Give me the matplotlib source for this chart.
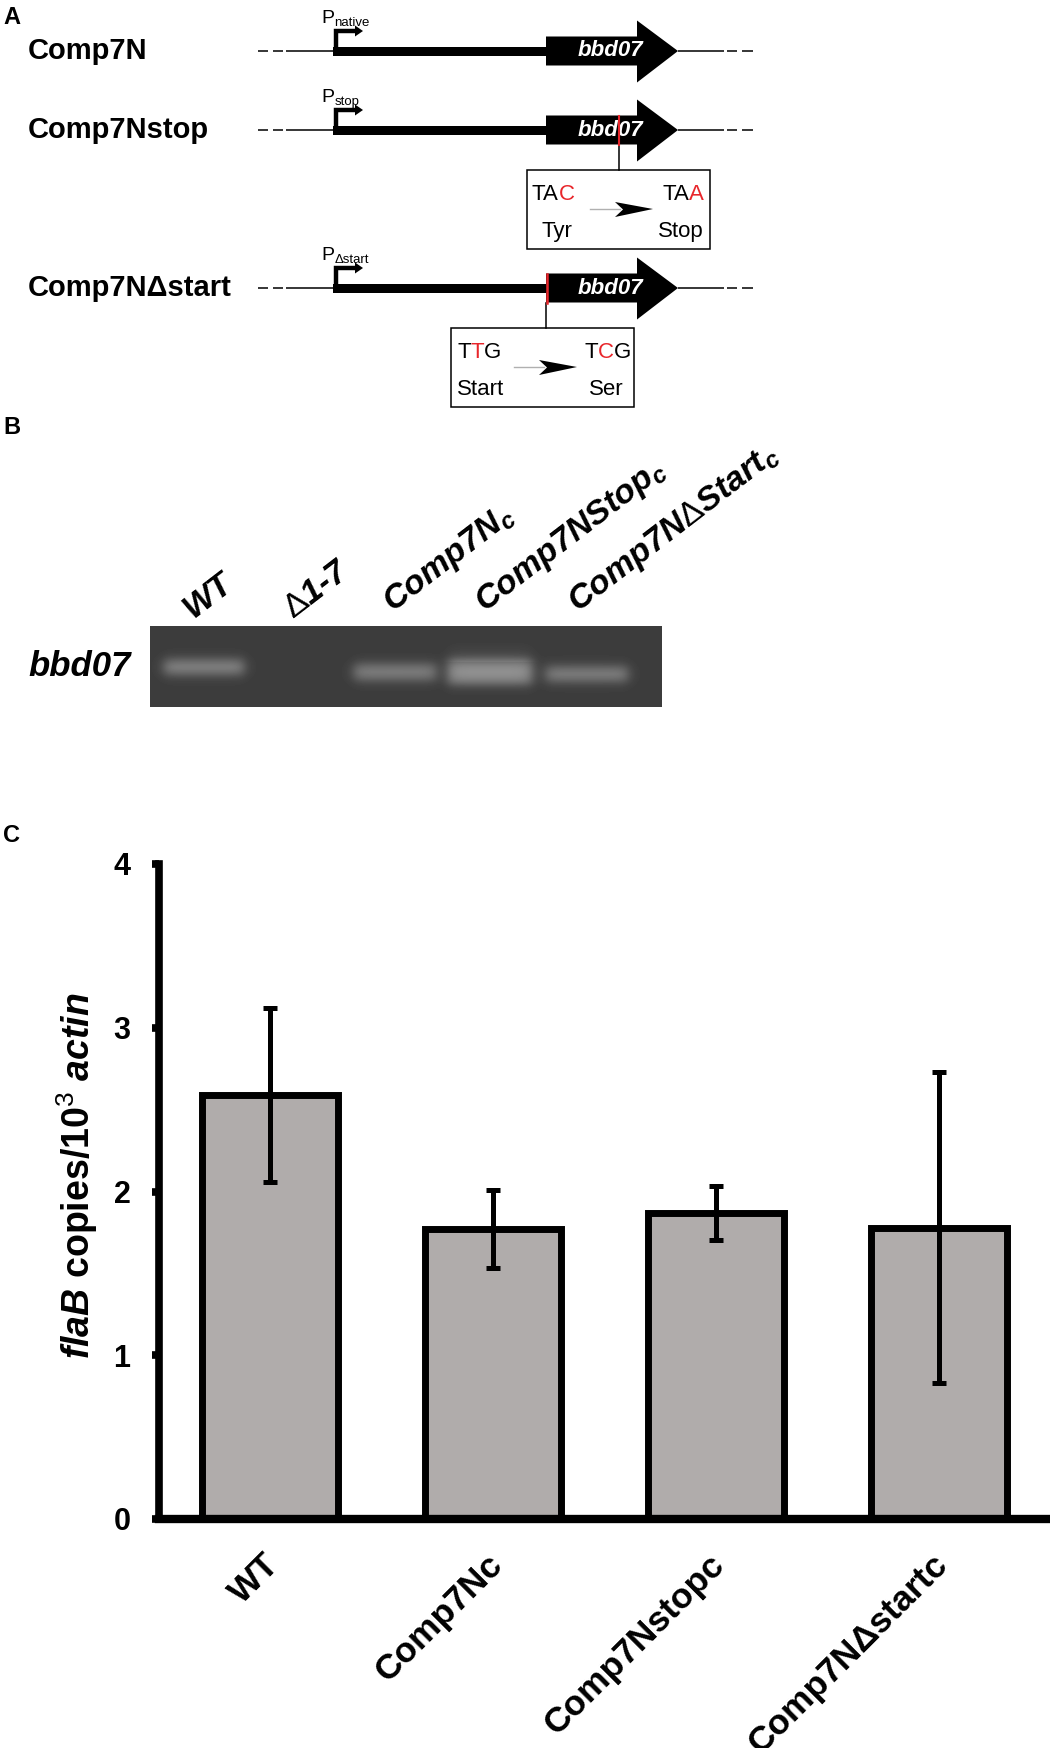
import matplotlib
matplotlib.use('Agg')
import matplotlib.pyplot as plt
from matplotlib.patches import Polygon, Rectangle
import numpy as np

# ---------------- data ----------------
categories = ['WT', 'Comp7Nc', 'Comp7Nstopc', 'Comp7NΔstartc']
means = [2.59, 1.77, 1.87, 1.78]
errors = [0.53, 0.24, 0.165, 0.95]
yticks = [0, 1, 2, 3, 4]

construct_names = ['Comp7N', 'Comp7Nstop', 'Comp7NΔstart']
promoter_subs = ['native', 'stop', 'Δstart']

gel_lanes = ['WT', r'$\mathrm{\Delta}$1-7', 'Comp7N$_c$', 'Comp7NStop$_c$',
             r'Comp7N$\mathrm{\Delta}$Start$_c$']
band_amp = [66, 0, 62, 84, 62]          # band brightness above background
band_size = [18, 0, 19, 26, 18]         # band thickness

plt.rcParams['font.family'] = ['Liberation Sans', 'DejaVu Sans']
plt.rcParams['mathtext.fontset'] = 'custom'
plt.rcParams['mathtext.rm'] = 'Liberation Sans'
plt.rcParams['mathtext.it'] = 'Liberation Sans:italic:bold'
plt.rcParams['mathtext.bf'] = 'Liberation Sans:bold'

fig = plt.figure(figsize=(10.5, 17.48), dpi=100)
ov = fig.add_axes([0, 0, 1, 1])
ov.set_xlim(0, 1050)
ov.set_ylim(1748, 0)
ov.axis('off')

# ---------------- panel A ----------------
ov.text(3, 17, 'A', fontsize=17, fontweight='bold', va='center', ha='left')
row_y = [51, 130, 288]
for name, sub, y in zip(construct_names, promoter_subs, row_y):
    ov.text(28, y, name, fontsize=21, fontweight='bold', va='center', ha='left')
    # backbone
    ov.plot([286, 335], [y, y], color='k', lw=1.1, solid_capstyle='butt')
    for a, b in [(258, 268), (273, 283), (727, 737), (742, 753)]:
        ov.plot([a, b], [y, y], color='k', lw=1.1, solid_capstyle='butt')
    ov.plot([678, 724], [y, y], color='k', lw=1.1, solid_capstyle='butt')
    ov.add_patch(Rectangle((333, y - 4.5), 546 - 333, 9, color='k', lw=0))
    # promoter
    ov.plot([335.5, 335.5, 356], [y, y - 20, y - 20], color='k', lw=3.2,
            solid_joinstyle='miter', solid_capstyle='butt')
    ov.add_patch(Polygon([(355, y - 25.5), (363, y - 20), (355, y - 14.5)], closed=True,
                         color='k', lw=0))
    pt = ov.text(321, y - 28, 'P', fontsize=14, va='baseline', ha='left')
    ov.annotate(sub, xy=(1, 0), xycoords=pt, xytext=(0.3, -1.5), textcoords='offset points',
                fontsize=9.5, va='bottom', ha='left')
    # gene arrow
    ov.add_patch(Polygon([(546, y - 14.5), (637, y - 14.5), (637, y - 30.5), (678, y),
                          (637, y + 31.5), (637, y + 14.5), (546, y + 14.5)], closed=True,
                         color='k', lw=0))
    ov.text(610, y, 'bbd07', color='white', fontsize=16, fontweight='bold',
            style='italic', ha='center', va='center')


def chain_left(x, y, parts, fs=16):
    t = ov.text(x, y, parts[0][0], color=parts[0][1], fontsize=fs, ha='left', va='baseline')
    for s, c in parts[1:]:
        t = ov.annotate(s, xy=(1, 0), xycoords=t, color=c, fontsize=fs, ha='left', va='bottom')


def chain_right(x, y, parts, fs=16):
    t = ov.text(x, y, parts[-1][0], color=parts[-1][1], fontsize=fs, ha='right', va='baseline')
    for s, c in parts[-2::-1]:
        t = ov.annotate(s, xy=(0, 0), xycoords=t, color=c, fontsize=fs, ha='right', va='bottom')


def mut_box(bx, by):
    ov.add_patch(Rectangle((bx, by), 183, 79, fill=False, edgecolor='k', lw=1.1))
    ov.plot([bx + 63, bx + 93], [by + 39, by + 39], color='#b0b0b0', lw=1.0)
    ov.add_patch(Polygon([(bx + 126, by + 39), (bx + 88, by + 32), (bx + 96, by + 39.5),
                          (bx + 88, by + 47)], closed=True, color='k', lw=0))


red = '#e8262b'
# row 2 mutation
y2 = row_y[1]
ov.plot([619, 619], [y2 - 14.5, y2 + 14.5], color=red, lw=1.5, zorder=5)
ov.plot([619, 619], [y2 + 14.5, 170], color='k', lw=1.1)
mut_box(527, 170)
chain_left(532, 200, [('TA', 'k'), ('C', red)])
chain_right(704, 200, [('TA', 'k'), ('A', red)])
ov.text(541, 237, 'Tyr', fontsize=16, ha='left', va='baseline')
ov.text(704, 237, 'Stop', fontsize=16, ha='right', va='baseline')

# row 3 mutation
y3 = row_y[2]
ov.plot([547, 547], [y3 - 14.5, y3 + 14.5], color=red, lw=1.8, zorder=5)
ov.plot([546, 546], [y3 + 14.5, 328], color='k', lw=1.1)
mut_box(451, 328)
chain_left(457, 358, [('T', 'k'), ('T', red), ('G', 'k')])
chain_right(631, 358, [('T', 'k'), ('C', red), ('G', 'k')])
ov.text(457, 395, 'Start', fontsize=16, ha='left', va='baseline')
ov.text(624, 395, 'Ser', fontsize=16, ha='right', va='baseline')

# ---------------- panel B ----------------
ov.text(3, 427, 'B', fontsize=17, fontweight='bold', va='center', ha='left')
gx0, gx1, gy0, gy1 = 150, 662, 626, 707
xs = np.arange(gx0, gx1) + 0.5
ys = np.arange(gy0, gy1) + 0.5
img = np.full((len(ys), len(xs)), 60.0)
lane_cx = [204, 290, 395, 490, 587]
lane_w = [80, 80, 82, 84, 82]
lane_cy = [667, 671, 672, 672, 674]
for cx, w, cy, h, amp in zip(lane_cx, lane_w, lane_cy, band_size, band_amp):
    if amp == 0:
        continue
    fx = 1 / (1 + np.exp((np.abs(xs - cx) - w / 2) / 3.5))
    fy = 1 / (1 + np.exp((np.abs(ys - cy) - h / 2) / 3.0))
    core = np.exp(-((ys - cy) / (h * 0.5)) ** 2)
    img += amp * np.outer(fy * (0.7 + 0.3 * core), fx)
# faint smear above strongest band
fx = 1 / (1 + np.exp((np.abs(xs - lane_cx[3]) - 40) / 4.0))
fy = np.clip((ys - 640) / 20.0, 0, 1) * (ys < 662)
img += 10 * np.outer(fy, fx)
ov.imshow(img, cmap='gray', vmin=0, vmax=255, extent=(gx0, gx1, gy1, gy0),
          origin='upper', aspect='auto', interpolation='bilinear', zorder=1)
ov.set_xlim(0, 1050)
ov.set_ylim(1748, 0)

ov.text(28, 667, 'bbd07', fontsize=25, fontweight='bold', style='italic', va='center', ha='left')
lab_xy = [(193, 619), (293, 619), (393, 613), (485, 613), (578, 613)]
for lab, (lx, ly) in zip(gel_lanes, lab_xy):
    ov.text(lx, ly, lab, fontsize=24.5, fontweight='bold', style='italic', rotation=37.5,
            rotation_mode='anchor', ha='left', va='baseline')

# ---------------- panel C ----------------
ov.text(3, 836, 'C', fontsize=17, fontweight='bold', va='center', ha='left')
axC = fig.add_axes([159 / 1050, 1 - 1519 / 1748, 891 / 1050, 655 / 1748])
axC.patch.set_alpha(0)
x = np.arange(len(categories))
axC.bar(x, means, width=0.61, color='#b0acab', edgecolor='k', linewidth=5, zorder=2)
axC.errorbar(x, means, yerr=errors, fmt='none', ecolor='k', elinewidth=3.6, capsize=4.7,
             capthick=3.6, zorder=3)
axC.set_xlim(-0.5, 3.5)
axC.set_ylim(0, 4)
axC.set_yticks(yticks)
axC.set_yticklabels([str(v) for v in yticks], fontsize=22, fontweight='bold')
label_offset = 0.07   # rotated labels sit slightly right of the bar centres
axC.set_xticks(x + label_offset)
axC.set_xticklabels(categories, fontsize=25.5, fontweight='bold', rotation=45, ha='right')
axC.tick_params(axis='y', direction='out', length=5, width=5.5, pad=15.5)
axC.tick_params(axis='x', length=0, pad=21)
for s in ['top', 'right']:
    axC.spines[s].set_visible(False)
axC.spines['left'].set_linewidth(5.5)
axC.spines['bottom'].set_linewidth(6)
axC.text(-0.092, 0.524, r'$\mathit{flaB}$ copies/10$^{3}$ $\mathit{actin}$', rotation=90,
         fontsize=27, fontweight='bold', ha='center', va='center', transform=axC.transAxes)

fig.savefig('out.png', dpi=100)
